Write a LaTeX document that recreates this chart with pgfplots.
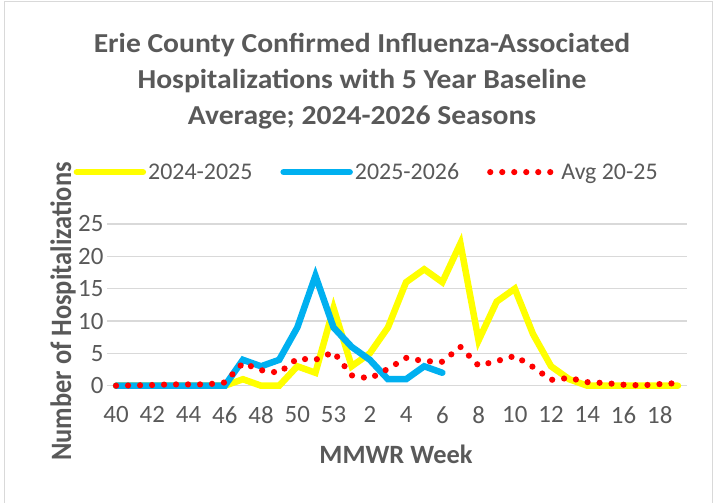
\documentclass[border=0pt]{standalone}
\usepackage{pgfplots}
\usepackage{pgfplotstable}
\usepackage{graphicx}
\pgfplotsset{compat=1.18}
\usepackage{fontspec}
\setmainfont{Carlito}
\definecolor{txt}{HTML}{595959}
\definecolor{grd}{HTML}{D9D9D9}
\definecolor{yel}{HTML}{FFFF00}
\definecolor{blu}{HTML}{00B0F0}
\definecolor{myred}{HTML}{FF0000}
\pgfplotstableread{
i v
0 0
1 0
2 0
3 0
4 0
5 0
6 0
7 1
8 0
9 0
10 3
11 2
12 12
13 3
14 5
15 9
16 16
17 18
18 16
19 22
20 7
21 13
22 15
23 8
24 3
25 1
26 0
27 0
28 0
29 0
30 0
31 0
}\tyellow
\pgfplotstableread{
i v
0 0
1 0
2 0
3 0
4 0
5 0
6 0
7 4
8 3
9 4
10 9
11 17
12 9
13 6
14 4
15 1
16 1
17 3
18 2
}\tblue
\pgfplotstableread{
i v
0 0
1 0.05
2 0.1
3 0.2
4 0.2
5 0.2
6 0.5
7 3.5
8 2.4
9 2.0
10 4.2
11 4.0
12 5.2
13 1.6
14 1.1
15 2.6
16 4.3
17 3.8
18 3.7
19 6.0
20 3.1
21 3.8
22 4.6
23 2.9
24 0.9
25 1.2
26 0.55
27 0.4
28 0.15
29 0.05
30 0.25
31 0.4
}\tred
\begin{document}
\begin{tikzpicture}
\path[use as bounding box] (0,0) rectangle (719bp,503bp);
\draw[grd, line width=1bp] (4.5bp,-5bp) -- (4.5bp,501bp) -- (712.7bp,501bp) -- (712.7bp,-5bp);
\begin{scope}[every node/.style={font=\bfseries\fontsize{27.5}{30}\selectfont, text=txt, anchor=base, inner sep=0pt}]
\node at (362bp,450.7bp) {\scalebox{1.08}[1]{Erie County Confirmed Influenza-Associated}};
\node at (362bp,414.7bp) {\scalebox{1.08}[1]{Hospitalizations with 5 Year Baseline}};
\node at (362bp,378.7bp) {\scalebox{1.08}[1]{Average; 2024-2026 Seasons}};
\end{scope}
\node[font=\bfseries\fontsize{26.5}{26.5}\selectfont, text=txt, rotate=90, inner sep=0pt] at (63bp,191.5bp) {\scalebox{1}[1.12]{Number of Hospitalizations}};
\node[font=\bfseries\fontsize{26.5}{26.5}\selectfont, text=txt, anchor=base, inner sep=0pt] at (396bp,39.7bp) {MMWR Week};
\begin{axis}[
  at={(107bp,117.3bp)}, anchor=south west, scale only axis,
  width=580bp, height=161.7bp,
  xmin=-0.5, xmax=31.5, ymin=0, ymax=25,
  axis line style={draw=none},
  major tick length=0pt,
  ymajorgrids, grid style={grd, line width=1.3bp},
  xtick={0,2,...,30},
  xticklabels={40,42,44,46,48,50,53,2,4,6,8,10,12,14,16,18},
  ytick={0,5,...,25},
  tick label style={font=\fontsize{25}{25}\selectfont, text=txt},
  xticklabel style={yshift=-17bp},
  /pgf/number format/assume math mode=true,
  clip=false,
  legend columns=3,
  legend style={at={(-0.063,1.321)}, anchor=west, draw=none, fill=none,
    font=\fontsize{24}{24}\selectfont, text=txt,
    /tikz/every even column/.append style={column sep=26bp}},
  legend image code/.code={\draw[#1] (0bp,0bp) -- (66bp,0bp);},
]
\addplot[yel, line width=6.5bp, line cap=round] table[x=i,y=v] {\tyellow};
\addlegendentry{2024-2025}
\addplot[blu, line width=6.5bp, line cap=round] table[x=i,y=v] {\tblue};
\addlegendentry{2025-2026}
\addplot[myred, line width=6.2bp, line cap=round, dash pattern=on 0bp off 12bp] table[x=i,y=v] {\tred};
\addlegendentry{Avg 20-25}
\end{axis}
\end{tikzpicture}
\end{document}
